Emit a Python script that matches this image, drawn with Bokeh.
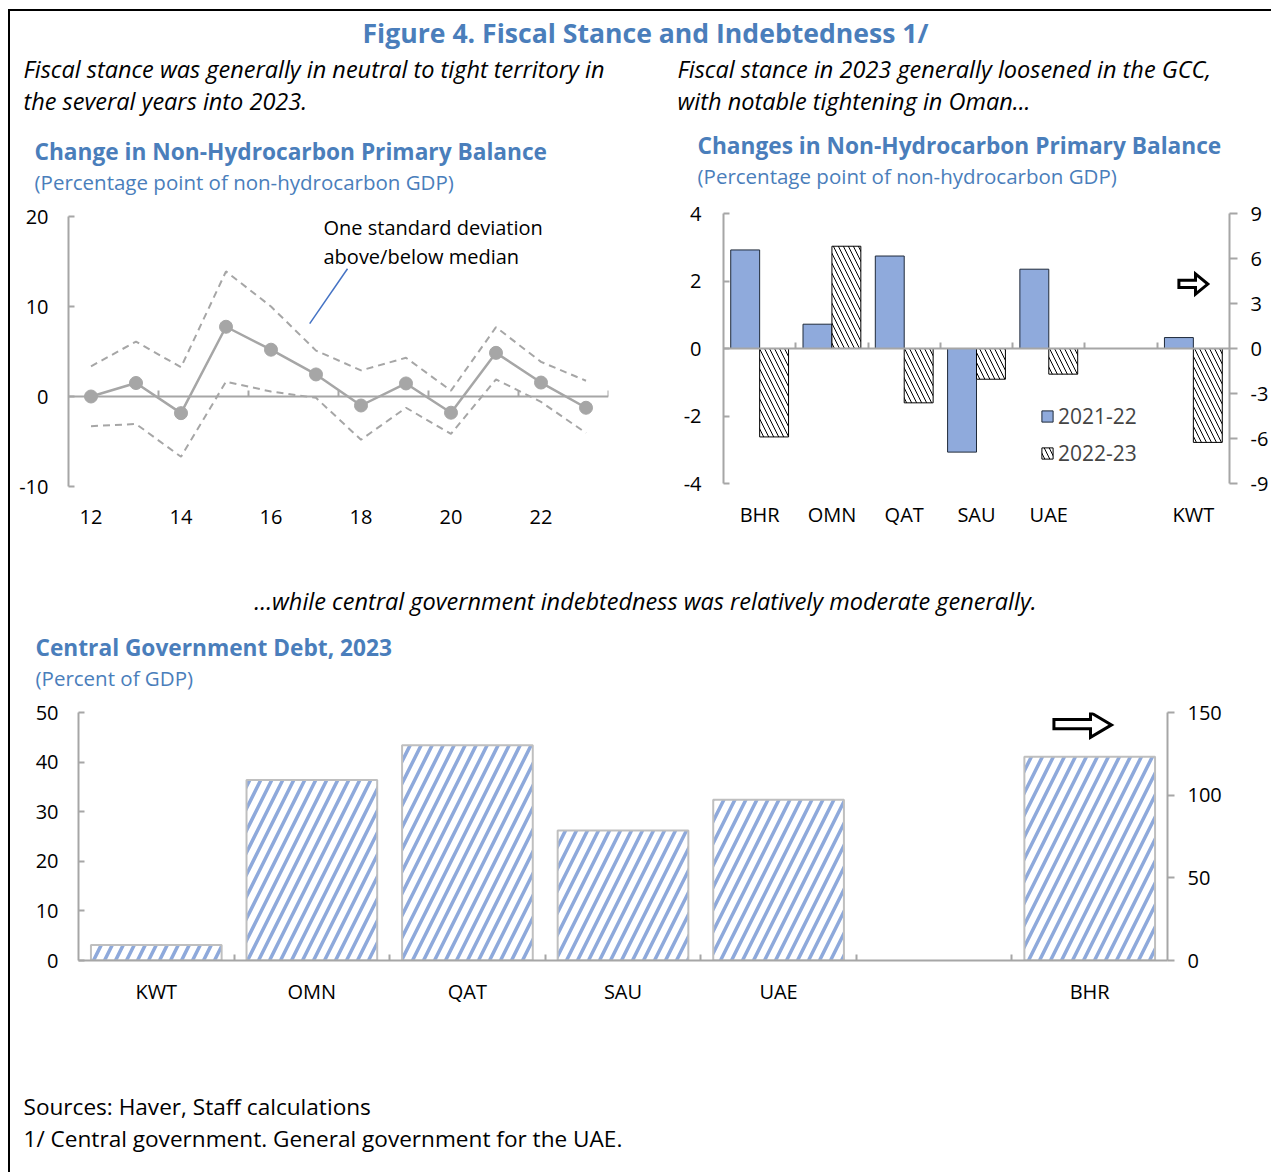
from bokeh.plotting import figure
from bokeh.models import (ColumnDataSource, Range1d, LinearAxis, FixedTicker, Label,
                          PolyAnnotation, Legend, LegendItem, Spacer, Arrow)
from bokeh.layouts import column, row
from bokeh.embed import file_html
from bokeh.resources import INLINE

FONT = "Open Sans"
TITLE_BLUE = "#4A7EBB"
AXIS_GRAY = "#A6A6A6"
LINE_GRAY = "#A6A6A6"
BAR_BLUE = "#8FAADC"
BAR_EDGE = "#1F2A3A"
HATCH_BLUE = "#8EA9DB"

# ---------------- data ----------------
# Chart 1: change in non-hydrocarbon primary balance (median and +/- 1 sd)
years = [12, 13, 14, 15, 16, 17, 18, 19, 20, 21, 22, 23]
year_ticks = [12, 14, 16, 18, 20, 22]
median = [0.0, 1.5, -1.85, 7.75, 5.2, 2.45, -1.0, 1.45, -1.8, 4.85, 1.55, -1.25]
upper = [3.35, 6.1, 3.25, 13.9, 10.0, 5.1, 2.9, 4.3, 0.65, 7.7, 3.85, 1.75]
lower = [-3.3, -3.05, -6.7, 1.65, 0.55, -0.15, -4.8, -1.25, -4.15, 1.9, -0.6, -4.05]
c1_ticks = [-10, 0, 10, 20]

# Chart 2: changes in non-hydrocarbon primary balance by country
cats_fs = ["BHR", "OMN", "QAT", "SAU", "UAE", "", "KWT"]
fs_left_countries = ["BHR", "OMN", "QAT", "SAU", "UAE"]
fs_left_2122 = [2.92, 0.72, 2.74, -3.07, 2.35]
fs_left_2223 = [-2.62, 3.03, -1.61, -0.91, -0.76]
fs_right_countries = ["KWT"]          # right axis
fs_right_2122 = [0.73]
fs_right_2223 = [-6.26]
fs_left_ticks = [-4, -2, 0, 2, 4]
fs_right_ticks = [-9, -6, -3, 0, 3, 6, 9]
series_labels = ["2021-22", "2022-23"]

# Chart 3: central government debt 2023
cats_debt = ["KWT", "OMN", "QAT", "SAU", "UAE", "", "BHR"]
debt_left_countries = ["KWT", "OMN", "QAT", "SAU", "UAE"]
debt_left = [3.15, 36.4, 43.4, 26.2, 32.4]
debt_right_countries = ["BHR"]       # right axis
debt_right = [123.2]
debt_left_ticks = [0, 10, 20, 30, 40, 50]
debt_right_ticks = [0, 50, 100, 150]

# annotation helpers (data units)
leader_x = [17.7, 16.86]
leader_y = [14.2, 8.1]


def arrow_shape(x0, x1, x2, b_lo, b_hi, h_lo, h_hi):
    mid = (h_lo + h_hi) / 2
    xs = [x0, x1, x1, x2, x1, x1, x0]
    ys = [b_hi, b_hi, h_hi, mid, h_lo, b_lo, b_lo]
    return xs, ys


def add_text(p, x, y, text, size, color="black", style="normal", align="left"):
    p.add_layout(Label(x=x, y=y, x_units="screen", y_units="screen", text=text,
                       text_font=FONT, text_font_size=size, text_color=color,
                       text_font_style=style, text_align=align, text_baseline="middle"))


def style_common(p):
    p.grid.visible = False
    p.outline_line_color = None
    p.background_fill_color = "white"
    p.border_fill_color = "white"
    p.frame_align = False


def text_fig(w, h):
    p = figure(width=w, height=h, x_range=Range1d(0, 1), y_range=Range1d(0, 1),
               x_axis_location=None, y_axis_location=None, output_backend="svg",
               toolbar_location=None, min_border=0, min_border_left=0, min_border_right=0,
               min_border_top=0, min_border_bottom=0)
    style_common(p)
    return p


def labels_for(ticks):
    return {t: str(t) for t in ticks}


def style_axis(ax, size="20px"):
    ax.major_label_text_font = FONT
    ax.major_label_text_font_size = size
    ax.major_label_text_color = "black"
    ax.minor_tick_line_color = None


def value_axis(ax, ticks, side, standoff, tick_out=7):
    ax.ticker = FixedTicker(ticks=ticks)
    ax.major_label_overrides = labels_for(ticks)
    ax.axis_line_color = AXIS_GRAY
    ax.axis_line_width = 2
    ax.major_tick_line_color = AXIS_GRAY
    ax.major_tick_line_width = 2
    if side == "left":
        ax.major_tick_in = 6
        ax.major_tick_out = 0
    else:
        ax.major_tick_in = 0
        ax.major_tick_out = tick_out
    ax.major_label_standoff = standoff
    style_axis(ax)


def category_axis(ax, cats, standoff, line=False, boundaries=None):
    ax.ticker = FixedTicker(ticks=list(range(len(cats))), minor_ticks=boundaries or [])
    ax.major_label_overrides = {i: c for i, c in enumerate(cats)}
    ax.axis_line_color = AXIS_GRAY if line else None
    ax.axis_line_width = 2
    ax.major_tick_line_color = None
    ax.major_label_standoff = standoff
    style_axis(ax)
    if boundaries:
        ax.minor_tick_line_color = AXIS_GRAY
        ax.minor_tick_line_width = 2
        ax.minor_tick_in = 6
        ax.minor_tick_out = 0


def zero_axis(p, boundaries):
    # axis line through zero with tick marks at category boundaries (no labels)
    ax = LinearAxis(fixed_location=0, ticker=FixedTicker(ticks=[], minor_ticks=boundaries))
    ax.axis_line_color = AXIS_GRAY
    ax.axis_line_width = 2
    ax.major_tick_line_color = None
    ax.minor_tick_line_color = AXIS_GRAY
    ax.minor_tick_line_width = 2
    ax.minor_tick_in = 6
    ax.minor_tick_out = 0
    ax.major_label_standoff = 0
    p.add_layout(ax, "below")
    return ax


# ---------------- header (titles of the top row) ----------------
hdr = text_fig(1261, 185)
add_text(hdr, 635, 164, "Figure 4. Fiscal Stance and Indebtedness 1/", "26.6px", TITLE_BLUE, "bold", "center")
add_text(hdr, 13, 128, "Fiscal stance was generally in neutral to tight territory in", "23.5px", style="italic")
add_text(hdr, 13, 96, "the several years into 2023.", "23.5px", style="italic")
add_text(hdr, 667, 128, "Fiscal stance in 2023 generally loosened in the GCC,", "23.5px", style="italic")
add_text(hdr, 667, 96, "with notable tightening in Oman...", "23.5px", style="italic")
add_text(hdr, 24, 45, "Change in Non-Hydrocarbon Primary Balance", "22.7px", TITLE_BLUE, "bold")
add_text(hdr, 24, 15, "(Percentage point of non-hydrocarbon GDP)", "20.5px", TITLE_BLUE)
add_text(hdr, 687, 51, "Changes in Non-Hydrocarbon Primary Balance", "22.7px", TITLE_BLUE, "bold")
add_text(hdr, 687, 21, "(Percentage point of non-hydrocarbon GDP)", "20.5px", TITLE_BLUE)

# ---------------- chart 1 ----------------
p1 = figure(width=650, height=352, x_range=Range1d(11.5, 23.5), y_range=Range1d(-10, 20),
            output_backend="svg", toolbar_location=None,
            min_border_left=58, min_border_right=52, min_border_top=20, min_border_bottom=62)
style_common(p1)
xa = p1.xaxis[0]
xa.ticker = FixedTicker(ticks=year_ticks)
xa.axis_line_color = None
xa.major_tick_line_color = None
xa.major_label_standoff = 17
style_axis(xa)
value_axis(p1.yaxis[0], c1_ticks, "left", 20)
zero_axis(p1, [13.5, 15.5, 17.5, 19.5, 21.5, 23.5])

p1.line(years, upper, line_color=LINE_GRAY, line_width=2, line_dash="7 5")
p1.line(years, lower, line_color=LINE_GRAY, line_width=2, line_dash="7 5")
p1.line(years, median, line_color=LINE_GRAY, line_width=2.5)
p1.scatter(years, median, size=13, fill_color=LINE_GRAY, line_color=LINE_GRAY)
p1.add_layout(Arrow(end=None, x_start=leader_x[0], y_start=leader_y[0],
                    x_end=leader_x[1], y_end=leader_y[1], line_color="#4472C4", line_width=1.5))
add_text(p1, 255, 259, "One standard deviation", "20px")
add_text(p1, 255, 230, "above/below median", "20px")

# ---------------- chart 2 ----------------
p2 = figure(width=611, height=352, x_range=Range1d(-0.5, 6.5), y_range=Range1d(-4, 4),
            output_backend="svg", toolbar_location=None,
            min_border_left=63, min_border_right=41, min_border_top=17, min_border_bottom=65)
style_common(p2)
p2.extra_y_ranges = {"right": Range1d(-9, 9)}
category_axis(p2.xaxis[0], cats_fs, 11)
value_axis(p2.yaxis[0], fs_left_ticks, "left", 22)
yr = LinearAxis(y_range_name="right")
value_axis(yr, fs_right_ticks, "right", 13, tick_out=8)
p2.add_layout(yr, "right")
zero_axis(p2, [0.5, 1.5, 2.5, 3.5, 4.5, 5.5])

xl = [cats_fs.index(c) for c in fs_left_countries]
src2l = ColumnDataSource(dict(xa=[x - 0.2 for x in xl], xb=[x + 0.2 for x in xl],
                              a=fs_left_2122, b=fs_left_2223))
xr = [cats_fs.index(c) for c in fs_right_countries]
src2r = ColumnDataSource(dict(xa=[x - 0.2 for x in xr], xb=[x + 0.2 for x in xr],
                              a=fs_right_2122, b=fs_right_2223))
blue_kw = dict(width=0.4, bottom=0, fill_color=BAR_BLUE, line_color=BAR_EDGE, line_width=1)
hatch_kw = dict(width=0.4, bottom=0, fill_color="white", hatch_pattern="\\", hatch_color="black",
                hatch_scale=10, hatch_weight=1, line_color="black", line_width=1)
ra = p2.vbar(x="xa", top="a", source=src2l, **blue_kw)
rb = p2.vbar(x="xb", top="b", source=src2l, **hatch_kw)
p2.vbar(x="xa", top="a", source=src2r, y_range_name="right", **blue_kw)
p2.vbar(x="xb", top="b", source=src2r, y_range_name="right", **hatch_kw)

leg = Legend(items=[LegendItem(label=series_labels[0], renderers=[ra]),
                    LegendItem(label=series_labels[1], renderers=[rb])],
             location=(317, 16))
leg.background_fill_alpha = 0
leg.border_line_color = None
leg.padding = 0
leg.margin = 0
leg.spacing = 9
leg.label_height = 20
leg.glyph_height = 14
leg.glyph_width = 14
leg.label_standoff = 4
leg.label_text_font = FONT
leg.label_text_font_size = "21px"
p2.add_layout(leg)

axs, ays = arrow_shape(5.80, 6.03, 6.20, 1.81, 2.02, 1.61, 2.21)
p2.add_layout(PolyAnnotation(xs=axs, ys=ays, fill_color="white", fill_alpha=1,
                             line_color="black", line_alpha=1, line_width=3, line_join="miter"))

# ---------------- middle text ----------------
mid = text_fig(1261, 148)
add_text(mid, 635, 96, "...while central government indebtedness was relatively moderate generally.",
         "23.5px", style="italic", align="center")
add_text(mid, 25, 49, "Central Government Debt, 2023", "22.7px", TITLE_BLUE, "bold")
add_text(mid, 25, 19, "(Percent of GDP)", "20.5px", TITLE_BLUE)

# ---------------- chart 3 ----------------
p3 = figure(width=1261, height=324, x_range=Range1d(-0.5, 6.5), y_range=Range1d(0, 50),
            output_backend="svg", toolbar_location=None,
            min_border_left=68, min_border_right=104, min_border_top=16, min_border_bottom=60)
style_common(p3)
p3.extra_y_ranges = {"right": Range1d(0, 150)}
category_axis(p3.xaxis[0], cats_debt, 11, line=True, boundaries=[0.5, 1.5, 2.5, 3.5, 4.5, 5.5])
value_axis(p3.yaxis[0], debt_left_ticks, "left", 20)
yr3 = LinearAxis(y_range_name="right")
value_axis(yr3, debt_right_ticks, "right", 13)
p3.add_layout(yr3, "right")

debt_kw = dict(width=0.84, bottom=0, fill_color="white", hatch_pattern="/", hatch_color=HATCH_BLUE,
               hatch_scale=22, hatch_weight=3.5, line_color="#BFBFBF", line_width=2)
src3l = ColumnDataSource(dict(x=[cats_debt.index(c) for c in debt_left_countries], v=debt_left))
src3r = ColumnDataSource(dict(x=[cats_debt.index(c) for c in debt_right_countries], v=debt_right))
p3.vbar(x="x", top="v", source=src3l, **debt_kw)
p3.vbar(x="x", top="v", source=src3r, y_range_name="right", **debt_kw)

axs, ays = arrow_shape(5.77, 6.005, 6.14, 46.7, 48.6, 45.0, 50.0)
p3.add_layout(PolyAnnotation(xs=axs, ys=ays, fill_color="white", fill_alpha=1,
                             line_color="black", line_alpha=1, line_width=3, line_join="miter"))

# ---------------- footer ----------------
foot = text_fig(1261, 152)
add_text(foot, 13, 66, "Sources: Haver, Staff calculations", "22.6px")
add_text(foot, 13, 34, "1/ Central government. General government for the UAE.", "22.6px")

# ---------------- layout with frame lines ----------------
content = column(hdr, row(p1, p2, spacing=0), mid, p3, foot, spacing=0)
top_line = row(Spacer(width=8, height=2),
               Spacer(width=1263, height=2, styles={"background-color": "black"}), spacing=0)
body = row(Spacer(width=8, height=1161),
           Spacer(width=2, height=1161, styles={"background-color": "black"}),
           content, spacing=0)
layout = column(Spacer(width=1271, height=9), top_line, body, spacing=0)

open("out.html", "w").write(file_html(layout, INLINE))
